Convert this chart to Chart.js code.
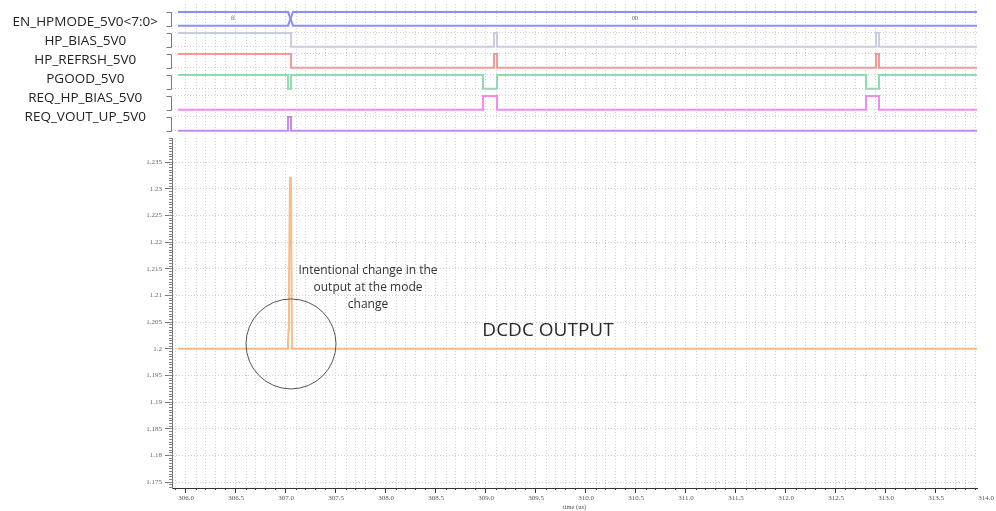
<!DOCTYPE html>
<html>
<head>
<meta charset="utf-8">
<script src="https://cdn.jsdelivr.net/npm/chart.js@4/dist/chart.umd.min.js"></script>
<style>
  html, body { margin: 0; padding: 0; background: #ffffff; }
  #wrap { position: relative; width: 996px; height: 511px; overflow: hidden; }
  #lanes { position: absolute; left: 0; top: 0; }
  #analog { position: absolute; left: 0; top: 130px; }
</style>
</head>
<body>
<div id="wrap">
  <canvas id="lanes" width="996" height="140" style="width:996px;height:140px"></canvas>
  <canvas id="analog" width="996" height="381" style="width:996px;height:381px"></canvas>
</div>
<script>
// ---- time window (us) ----
const X_MIN = 305.86;
const X_MAX = 313.91;
const V_MIN = 1.1739;
const V_MAX = 1.2395;

// ---- digital lanes ----
const laneNames = ['EN_HPMODE_5V0<7:0>', 'HP_BIAS_5V0', 'HP_REFRSH_5V0', 'PGOOD_5V0', 'REQ_HP_BIAS_5V0', 'REQ_VOUT_UP_5V0'];
const laneColors = ['#8e8ef4', '#c9cddc', '#f39a98', '#8edcaf', '#f28af0', '#c48bef'];

// bus EN_HPMODE_5V0<7:0>: value per segment, and segment edges (start, crossing start, crossing end, end)
const busValues = ['ff', '00'];
const busEdges = [305.92, 307.02, 307.07, 313.91];

const hpBiasT   = [305.92, 307.05, 309.08, 309.11, 312.90, 312.93, 313.91];
const hpBiasV   = [1, 0, 1, 0, 1, 0, 0];
const hpRefrshT = [305.92, 307.05, 309.08, 309.11, 312.90, 312.93, 313.91];
const hpRefrshV = [1, 0, 1, 0, 1, 0, 0];
const pgoodT    = [305.92, 307.02, 307.05, 308.97, 309.11, 312.80, 312.93, 313.91];
const pgoodV    = [1, 0, 1, 0, 1, 0, 1, 1];
const reqHpBiasT = [305.92, 308.97, 309.11, 312.80, 312.93, 313.91];
const reqHpBiasV = [0, 1, 0, 1, 0, 0];
const reqVoutUpT = [305.92, 307.02, 307.05, 313.91];
const reqVoutUpV = [0, 1, 0, 0];

// ---- analog: DCDC output (V) ----
const dcdcTime = [305.92, 307.015, 307.02, 307.025, 307.03, 307.04, 307.05, 307.06, 307.07, 313.91];
const dcdcVolt = [1.2, 1.2, 1.2015, 1.2035, 1.213, 1.2322, 1.2300, 1.2, 1.2, 1.2];

// ---- axis ticks ----
const timeTicks = [306.0, 306.5, 307.0, 307.5, 308.0, 308.5, 309.0, 309.5, 310.0, 310.5, 311.0, 311.5, 312.0, 312.5, 313.0, 313.5, 314.0];
const voltTicks = [1.175, 1.18, 1.185, 1.19, 1.195, 1.2, 1.205, 1.21, 1.215, 1.22, 1.225, 1.23, 1.235];
const TIME_MINOR_STEP = 0.1;
const VOLT_MINOR_STEP = 0.0005;

// ---- annotation anchors (data space) ----
const markT = 307.05, markV = 1.2009;
const noteT = 307.82, noteV = 1.2146;
const noteLines = ['Intentional change in the', 'output at the mode', 'change'];
const titleT = 309.62, titleV = 1.2034;
const titleText = 'DCDC OUTPUT';

const GRID = '#d2d2d2';
const DOTS = [1, 2];

function stepTicks(from, to, step) {
  const out = [];
  const n = Math.round((to - from) / step);
  for (let i = 0; i <= n; i++) out.push({ value: +(from + i * step).toFixed(6) });
  return out;
}

// ================= digital lanes chart =================
const HIGH = 0.65;                       // height of a logic-1 inside a lane
const laneBase = i => (laneNames.length - 1) - i;   // lane 0 on top
const lvl = (i, v) => laneBase(i) + v * HIGH;

const digital = [
  [hpBiasT, hpBiasV], [hpRefrshT, hpRefrshV], [pgoodT, pgoodV],
  [reqHpBiasT, reqHpBiasV], [reqVoutUpT, reqVoutUpV]
];

const laneSets = digital.map(([t, v], k) => ({
  data: t.map((x, j) => ({ x, y: lvl(k + 1, v[j]) })),
  stepped: true,
  borderColor: laneColors[k + 1],
  borderWidth: 2,
  pointRadius: 0,
  fill: false
}));

const busHi = lvl(0, 1), busLo = lvl(0, 0);
const busSets = [
  [busHi, busHi, busLo, busLo],
  [busLo, busLo, busHi, busHi]
].map(ys => ({
  data: busEdges.map((x, j) => ({ x, y: ys[j] })),
  borderColor: laneColors[0],
  borderWidth: 2,
  pointRadius: 0,
  tension: 0,
  fill: false
}));

const laneDecor = {
  id: 'laneDecor',
  afterDatasetsDraw(chart) {
    const { ctx, chartArea } = chart;
    const xs = chart.scales.x, ys = chart.scales.y;
    ctx.save();
    // lane brackets
    ctx.strokeStyle = '#7a7a7a';
    ctx.lineWidth = 1;
    laneNames.forEach((_, i) => {
      const yt = Math.round(ys.getPixelForValue(lvl(i, 1))) + 0.5;
      const yb = Math.round(ys.getPixelForValue(lvl(i, 0))) + 0.5;
      const xr = chartArea.left - 0.5;
      ctx.beginPath();
      ctx.moveTo(xr - 5, yt);
      ctx.lineTo(xr, yt);
      ctx.lineTo(xr, yb);
      ctx.lineTo(xr - 5, yb);
      ctx.stroke();
    });
    // bus values
    ctx.fillStyle = '#555';
    ctx.font = '6px "Liberation Serif"';
    ctx.textAlign = 'center';
    ctx.textBaseline = 'middle';
    const yMid = ys.getPixelForValue(lvl(0, 0.5));
    const segs = [[busEdges[0], busEdges[1]], [busEdges[2], busEdges[3]]];
    segs.forEach(([a, b], k) => {
      const xm = (xs.getPixelForValue(a) + xs.getPixelForValue(b)) / 2;
      ctx.fillText(busValues[k], xm, yMid);
    });
    ctx.restore();
  }
};

const noEdgePadding = s => { s.paddingTop = 0; s.paddingBottom = 0; s.paddingLeft = 0; s.paddingRight = 0; };

new Chart(document.getElementById('lanes'), {
  type: 'line',
  data: { datasets: [...busSets, ...laneSets] },
  options: {
    responsive: false,
    animation: false,
    events: [],
    layout: { padding: { top: 4, bottom: 4, left: 0, right: 19 } },
    plugins: { legend: { display: false }, tooltip: { enabled: false } },
    scales: {
      x: {
        type: 'linear', min: X_MIN, max: X_MAX,
        ticks: { display: false },
        grid: { color: GRID, drawTicks: false },
        border: { display: false, dash: DOTS },
        afterBuildTicks: s => { s.ticks = stepTicks(306.0, 313.9, TIME_MINOR_STEP); },
        afterFit: s => { s.height = 0; noEdgePadding(s); }
      },
      y: {
        type: 'linear', position: 'left', weight: 0,
        min: -0.255, max: 6.031,
        ticks: { display: false },
        grid: { color: GRID, drawTicks: false },
        border: { display: false, dash: DOTS },
        afterBuildTicks: s => {
          const t = [];
          laneNames.forEach((_, i) => { t.push({ value: lvl(i, 0) }, { value: lvl(i, 1) }); });
          s.ticks = t;
        },
        afterFit: s => { s.width = 0; noEdgePadding(s); }
      },
      names: {
        type: 'linear', position: 'left', weight: 1,
        reverse: true, min: -0.947, max: 6.0,
        grid: { display: false, drawTicks: true, tickLength: 14 },
        border: { display: false },
        ticks: {
          crossAlign: 'center', padding: 0,
          color: '#222',
          font: { family: '"Open Sans"', size: 13.5 },
          callback: v => laneNames[v]
        },
        afterBuildTicks: s => { s.ticks = laneNames.map((_, i) => ({ value: i })); },
        afterFit: s => { s.width = 172; noEdgePadding(s); }
      }
    }
  },
  plugins: [laneDecor]
});

// ================= analog chart =================
const notes = {
  id: 'notes',
  afterDatasetsDraw(chart) {
    const { ctx } = chart;
    const xs = chart.scales.x, ys = chart.scales.y;
    ctx.save();
    // marker circle around the transition
    ctx.strokeStyle = '#555';
    ctx.lineWidth = 1;
    ctx.beginPath();
    ctx.arc(xs.getPixelForValue(markT), ys.getPixelForValue(markV), 45, 0, Math.PI * 2);
    ctx.stroke();
    // note text
    ctx.fillStyle = '#333';
    ctx.textAlign = 'center';
    ctx.textBaseline = 'middle';
    ctx.font = '12px "Open Sans"';
    const nx = xs.getPixelForValue(noteT), ny = ys.getPixelForValue(noteV);
    noteLines.forEach((s, i) => ctx.fillText(s, nx, ny + i * 17));
    ctx.font = '19px "Open Sans"';
    ctx.fillStyle = '#2a2a2a';
    ctx.fillText(titleText, xs.getPixelForValue(titleT), ys.getPixelForValue(titleV));
    ctx.restore();
  }
};

const inRange = c => c.tick && c.tick.value <= X_MAX + 1e-9;

new Chart(document.getElementById('analog'), {
  type: 'line',
  data: {
    datasets: [{
      label: 'DCDC OUTPUT',
      data: dcdcTime.map((t, i) => ({ x: t, y: dcdcVolt[i] })),
      borderColor: 'rgba(242,150,66,0.62)',
      borderWidth: 2,
      pointRadius: 0,
      tension: 0,
      fill: false
    }]
  },
  options: {
    responsive: false,
    animation: false,
    events: [],
    layout: { padding: { top: 8, bottom: 0, left: 0, right: 19 } },
    plugins: { legend: { display: false }, tooltip: { enabled: false } },
    scales: {
      x: {
        type: 'linear', position: 'bottom', weight: 1,
        min: X_MIN, max: X_MAX,
        afterBuildTicks: s => { s.ticks = timeTicks.map(v => ({ value: v })); },
        ticks: {
          autoSkip: false, maxRotation: 0, minRotation: 0, padding: 1,
          color: '#555', font: { family: '"Liberation Serif"', size: 7 },
          callback: v => Number(v).toFixed(1)
        },
        grid: {
          color: c => inRange(c) ? '#c4c4c4' : 'rgba(0,0,0,0)',
          tickColor: c => inRange(c) ? '#333' : 'rgba(0,0,0,0)',
          tickLength: 5
        },
        border: { display: true, color: '#333', width: 1, dash: DOTS },
        title: {
          display: true, text: 'time (us)', color: '#555',
          font: { family: '"Liberation Serif"', size: 6.5 },
          padding: { top: 2, bottom: 0 }
        },
        afterFit: s => { s.height = 23; noEdgePadding(s); }
      },
      xm: {
        type: 'linear', position: 'bottom', weight: 0,
        min: X_MIN, max: X_MAX,
        afterBuildTicks: s => { s.ticks = stepTicks(305.9, 313.9, TIME_MINOR_STEP); },
        ticks: { display: false },
        grid: { color: GRID, tickColor: '#444', tickLength: 2 },
        border: { display: false, dash: DOTS },
        afterFit: s => { s.height = 0; noEdgePadding(s); }
      },
      y: {
        type: 'linear', position: 'left', weight: 1,
        min: V_MIN, max: V_MAX,
        afterBuildTicks: s => { s.ticks = voltTicks.map(v => ({ value: v })); },
        ticks: {
          padding: 3, color: '#666',
          font: { family: '"Liberation Serif"', size: 7 },
          callback: v => String(+Number(v).toFixed(3))
        },
        grid: { color: GRID, tickColor: '#777', tickLength: 7 },
        border: { display: true, color: '#777', width: 1, dash: DOTS },
        afterFit: s => { s.width = 172; noEdgePadding(s); }
      },
      ym: {
        type: 'linear', position: 'left', weight: 0,
        min: V_MIN, max: V_MAX,
        afterBuildTicks: s => { s.ticks = stepTicks(1.174, 1.2395, VOLT_MINOR_STEP); },
        ticks: { display: false },
        grid: { drawOnChartArea: false, tickColor: '#888', tickLength: 3 },
        border: { display: false },
        afterFit: s => { s.width = 0; noEdgePadding(s); }
      }
    }
  },
  plugins: [notes]
});
</script>
</body>
</html>
